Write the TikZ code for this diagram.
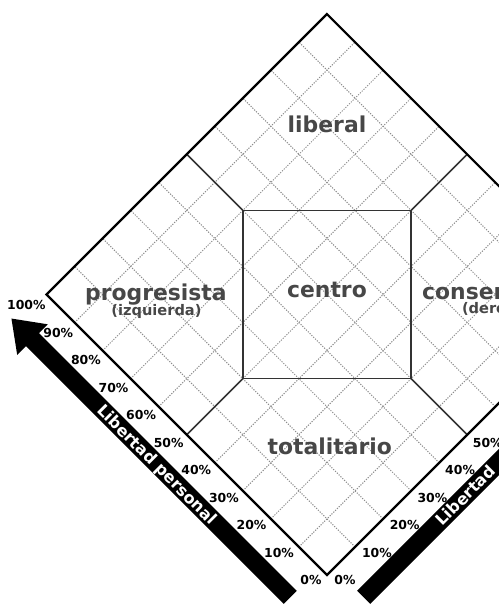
\documentclass[tikz,border=0pt]{standalone}
\usepackage{fontspec}
\setmainfont{DejaVu Sans}
\usepackage{tikz}
\usepackage{xcolor}

\definecolor{labelgray}{HTML}{474747}
\definecolor{gridgray}{HTML}{8C8C8C}

\begin{document}
\begin{tikzpicture}[
  region/.style={font=\bfseries\fontsize{11.1}{13}\selectfont, text=labelgray, inner sep=0pt},
  subregion/.style={font=\bfseries\fontsize{7.4}{9}\selectfont, text=labelgray, inner sep=0pt},
  pct/.style={font=\bfseries\fontsize{6.3}{7.5}\selectfont, inner sep=0pt},
  axislabel/.style={font=\bfseries\fontsize{8.2}{10}\selectfont, text=white, inner sep=0pt},
  gridline/.style={gridgray, line width=0.5pt, dash pattern=on 0.6pt off 0.7pt},
  innerline/.style={black!80, line width=0.85pt},
  outline/.style={black, line width=1.1pt, line join=miter},
]
  \useasboundingbox (-5.829,-5.535) rectangle (3.066,5.25);
  \clip (-5.829,-5.535) rectangle (3.066,5.25);

  % chart in steps of 10% (personal along x, economic along y)
  \begin{scope}[shift={(0,-5)}, x={(-0.5cm,0.5cm)}, y={(0.5cm,0.5cm)}]
    \foreach \i in {1,...,9} {
      \draw[gridline] (\i,0) -- (\i,10);
      \draw[gridline] (0,\i) -- (10,\i);
    }
    \coordinate (B) at (0,0);
    \coordinate (L) at (10,0);
    \coordinate (T) at (10,10);
    \coordinate (R) at (0,10);
    \coordinate (NW) at (8,5);
    \coordinate (NE) at (5,8);
    \coordinate (SE) at (2,5);
    \coordinate (SW) at (5,2);
    \draw[innerline] (NW) -- (NE) -- (SE) -- (SW) -- cycle;
    \draw[innerline] (NW) -- (10,5);
    \draw[innerline] (NE) -- (5,10);
    \draw[innerline] (SE) -- (0,5);
    \draw[innerline] (SW) -- (5,0);
    \draw[outline] (B) -- (L) -- (T) -- (R) -- cycle;
  \end{scope}

  \node[region, anchor=base] (liberal) at (0,2.88) {liberal};
  \node[region, anchor=base] (progresista) at (-3.05,-0.10) {progresista};
  \node[subregion, anchor=base] (izquierda) at (-3.04,-0.38) {(izquierda)};
  \node[region, anchor=base] (centro) at (0,-0.05) {centro};
  \node[region, anchor=base] (totalitario) at (0.05,-2.86) {totalitario};
  \node[region, anchor=base west] (conservador) at (1.69,-0.09) {conser};
  \node[subregion, anchor=base west] (derecha) at (2.40,-0.33) {(dere};

  % percentages
  \foreach \k in {0,...,10} {
    \pgfmathtruncatemacro{\pc}{10*\k}
    \node[pct, anchor=east] (pl\k) at ({-0.09-0.492*\k},{-5.09+0.49*\k}) {\pc\%};
  }
  \foreach \k in {0,...,5} {
    \pgfmathtruncatemacro{\pc}{10*\k}
    \node[pct, anchor=west] (pr\k) at ({0.125+0.494*\k},{-5.09+0.49*\k}) {\pc\%};
  }

  % axis arrows
  \begin{scope}[shift={(0,-5)}, rotate=135]
    \fill (0.18,0.58) -- (6.68,0.58) -- (6.68,0.36) -- (7.21,0.745)
      -- (6.68,1.13) -- (6.68,0.91) -- (0.18,0.91) -- cycle;
    \node[axislabel, rotate=-45, anchor=base] (personal) at (3.53,0.85) {Libertad personal};
  \end{scope}
  \begin{scope}[shift={(0,-5)}, rotate=45, yscale=-1]
    \fill (0.18,0.58) -- (6.68,0.58) -- (6.68,0.36) -- (7.21,0.745)
      -- (6.68,1.13) -- (6.68,0.91) -- (0.18,0.91) -- cycle;
    \node[axislabel, rotate=45, anchor=base west] (economica) at (2.06,0.85) {Libertad};
  \end{scope}
\end{tikzpicture}
\end{document}
